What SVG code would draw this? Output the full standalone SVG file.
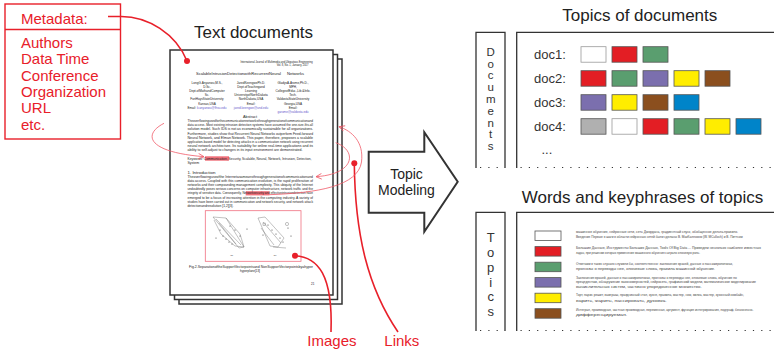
<svg xmlns="http://www.w3.org/2000/svg" width="774" height="350" viewBox="0 0 774 350">
<defs>
<style>
text{font-family:"Liberation Sans",Arial,sans-serif}
.red{fill:#e8202a}
.meta{font-size:15px;fill:#e8202a}
.title{font-size:17px;fill:#222}
.box{fill:none;stroke:#333;stroke-width:1.3}
.dots{fill:none;stroke:#333;stroke-width:1.2;stroke-dasharray:1.2 7.1}
.lbl{font-size:13px;fill:#333}
.vert{fill:#333;text-anchor:middle}
.sw{stroke:#555;stroke-width:0.8}
.kw{font-size:3.6px;fill:#444}
.pg{fill:#fff;stroke:#333;stroke-width:1.5}
.t{font-size:3.5px;fill:#222}
.tc{font-size:3.1px;fill:#222;text-anchor:middle}
.lnk{fill:#6a5acd}
.thick{fill:none;stroke:#e8202a;stroke-width:1.6}
.thin{fill:none;stroke:#f05a68;stroke-width:0.8}
.plot{fill:none;stroke:#666;stroke-width:0.4}
</style>
<marker id="ah" viewBox="0 0 10 10" refX="9" refY="5" markerWidth="7" markerHeight="7" orient="auto" markerUnits="userSpaceOnUse">
<path d="M1,1 L9,5 L1,9" fill="none" stroke="#f05a68" stroke-width="1.2"/>
</marker>
</defs>

<g id="metadata">
<rect x="5" y="4" width="115.5" height="135" fill="#fff" stroke="#e8202a" stroke-width="1.4"/>
<line x1="5" y1="29.5" x2="120.5" y2="29.5" stroke="#e8202a" stroke-width="1.4"/>
<text class="meta" x="21" y="24">Metadata:</text>
<text class="meta" x="21" y="48">Authors</text>
<text class="meta" x="21" y="64.3">Data Time</text>
<text class="meta" x="21" y="80.6">Conference</text>
<text class="meta" x="21" y="96.9">Organization</text>
<text class="meta" x="21" y="113.2">URL</text>
<text class="meta" x="21" y="129.5">etc.</text>
</g>

<g id="documents">
<text class="title" x="194" y="37.5">Text documents</text>
<rect class="pg" x="179" y="59" width="163" height="245"/>
<rect class="pg" x="174.5" y="54.5" width="163" height="245"/>
<rect class="pg" x="170" y="50" width="163" height="245"/>
<text class="t" x="312.7" y="63.3" text-anchor="end" style="font-size:2.6px">International Journal of Multimedia and Ubiquitous Engineering</text>
<text class="t" x="308.5" y="66.3" text-anchor="end" style="font-size:2.6px">Vol. 8, No. 1, January, 2017</text>
<text class="t" x="196" y="74.8" style="font-size:4.2px" textLength="85" lengthAdjust="spacingAndGlyphs">ScalableIntrusionDetectionwithRecurrentNeural</text>
<text class="t" x="287" y="74.8" style="font-size:4.2px" textLength="17" lengthAdjust="spacingAndGlyphs">Networks</text>
<g>
<text class="tc" x="207" y="83.5">LongG.Anyanwu,M.S.,</text>
<text class="tc" x="207" y="87.7">D.Sc.</text>
<text class="tc" x="207" y="91.9">Dept.ofMathandComputer</text>
<text class="tc" x="207" y="96.1">Sc.</text>
<text class="tc" x="207" y="100.3">FortHaysStateUniversity</text>
<text class="tc" x="207" y="104.5">Kansas,USA</text>
<text class="tc" x="207" y="108.7">Email: <tspan class="lnk">lcanyanwu@fhsu.edu</tspan></text>
<text class="tc" x="251" y="83.5">JaredKeengwePh.D.</text>
<text class="tc" x="251" y="87.7">Dept.ofTeachingand</text>
<text class="tc" x="251" y="91.9">Learning</text>
<text class="tc" x="251" y="96.1">UniversityofNorthDakota</text>
<text class="tc" x="251" y="100.3">NorthDakota,USA</text>
<text class="tc" x="251" y="104.5">Email:</text>
<text class="tc lnk" x="251" y="108.7">jared.keengwe@und.edu</text>
<text class="tc" x="293" y="83.5">GladysA.Arome,Ph.D.,</text>
<text class="tc" x="293" y="87.7">MPH,</text>
<text class="tc" x="293" y="91.9">CollegeofEduc.,Lib.&amp;Info.</text>
<text class="tc" x="293" y="96.1">Tech.</text>
<text class="tc" x="293" y="100.3">ValdostaStateUniversity</text>
<text class="tc" x="293" y="104.5">Georgia,USA</text>
<text class="tc" x="293" y="108.7">Email:</text>
<text class="tc lnk" x="293" y="112.9">garome@valdosta.edu</text>
</g>
<text class="tc" x="250" y="118" style="font-size:3.8px">Abstract</text>
<g class="t">
<text x="187.5" y="122" textLength="125.5" lengthAdjust="spacingAndGlyphs">Theoverflowingusedforthecommunicationnetworksthroughgenerationofcommunicationand</text>
<text x="187.5" y="126.2" textLength="125.5" lengthAdjust="spacingAndGlyphs">data access. Most existing intrusion detection systems have assumed the one-size-fits-all</text>
<text x="187.5" y="130.4" textLength="125.5" lengthAdjust="spacingAndGlyphs">solution model. Such IDS is not as economically sustainable for all organizations.</text>
<text x="187.5" y="134.6" textLength="125.5" lengthAdjust="spacingAndGlyphs">Furthermore, studies show that Recurrent Neural Networks outperform Feed-forward</text>
<text x="187.5" y="138.8" textLength="125.5" lengthAdjust="spacingAndGlyphs">Neural Network, and Elman Network. This paper, therefore, proposes a scalable</text>
<text x="187.5" y="143" textLength="125.5" lengthAdjust="spacingAndGlyphs">application-based model for detecting attacks in a communication network using recurrent</text>
<text x="187.5" y="147.2" textLength="125.5" lengthAdjust="spacingAndGlyphs">neural network architecture. Its suitability for online real-time applications and its</text>
<text x="187.5" y="151.4" textLength="115" lengthAdjust="spacingAndGlyphs">ability to self-adjust to changes in its input environment are demonstrated.</text>
</g>
<rect x="205" y="156.3" width="24" height="4.4" fill="#f0707a"/>
<text class="t" x="187.5" y="159.8" textLength="124" lengthAdjust="spacingAndGlyphs">Keywords: Communication, Security, Scalable, Neural, Network, Intrusion, Detection,</text>
<text class="t" x="187.5" y="164.2">System</text>
<text class="t" x="187.5" y="173.6" style="font-size:4.4px">1. Introduction</text>
<rect x="245.7" y="191.2" width="23.6" height="4.2" fill="#f0707a"/>
<g class="t">
<text x="187.5" y="177.6" textLength="125.5" lengthAdjust="spacingAndGlyphs">Theoverflowinguseofthe Internetasameansthroughgenerationofcommunicationand</text>
<text x="187.5" y="181.8" textLength="125.5" lengthAdjust="spacingAndGlyphs">data access. Coupled with this communication evolution, is the rapid proliferation of</text>
<text x="187.5" y="186" textLength="125.5" lengthAdjust="spacingAndGlyphs">networks and their compounding management complexity. This ubiquity of the Internet</text>
<text x="187.5" y="190.2" textLength="125.5" lengthAdjust="spacingAndGlyphs">undoubtedly poses serious concerns on computer infrastructure, network traffic and the</text>
<text x="187.5" y="194.4" textLength="125.5" lengthAdjust="spacingAndGlyphs">integrity of sensitive data. Consequently, Networksecurity and effectiveintrusiondetection have</text>
<text x="187.5" y="198.6" textLength="125.5" lengthAdjust="spacingAndGlyphs">emerged to be a focus of increasing attention in the computing industry. A variety of</text>
<text x="187.5" y="202.8" textLength="125.5" lengthAdjust="spacingAndGlyphs">studies have been carried out in communication and network security, and network attack</text>
<text x="187.5" y="207" textLength="46" lengthAdjust="spacingAndGlyphs">detectionandresolution [1,2][3].</text>
</g>
<rect x="205.3" y="210.7" width="95.7" height="50.6" fill="#fff" stroke="#f07080" stroke-width="0.8"/>
<g class="plot">
<path d="M213,217 L226,218 L244,247 L239,248 Z"/>
<path d="M214,220 L221,234 L235,246 L244,247"/>
<path d="M226,218 L240,234 L244,247"/>
<path d="M216,219 L241,245 M219,223 L236,244"/>
<path d="M258,218 L265,217 L284,238 L278,247 L270,246 Z"/>
<path d="M263,222 L281,243 M261,228 L274,245"/>
<path d="M273,247 L286,248"/>
</g>
<g fill="#444">
<circle cx="220" cy="230" r="0.6"/><circle cx="223" cy="236" r="0.6"/><circle cx="226" cy="239" r="0.6"/><circle cx="229" cy="242" r="0.6"/><circle cx="232" cy="244" r="0.6"/>
<circle cx="230" cy="226" r="0.6"/><circle cx="235" cy="230" r="0.6"/><circle cx="240" cy="236" r="0.6"/><circle cx="247" cy="229" r="0.6"/><circle cx="216" cy="238" r="0.6"/>
<circle cx="268" cy="225" r="0.6"/><circle cx="272" cy="230" r="0.6"/><circle cx="276" cy="234" r="0.6"/><circle cx="280" cy="238" r="0.6"/><circle cx="283" cy="242" r="0.6"/>
<circle cx="263" cy="235" r="0.6"/><circle cx="288" cy="228" r="0.6"/><circle cx="291" cy="236" r="0.6"/>
</g>
<circle cx="287" cy="224" r="1.6" fill="none" stroke="#666" stroke-width="0.4"/>
<rect x="263" y="223" width="2.5" height="2.5" fill="none" stroke="#666" stroke-width="0.4"/>
<text class="tc" x="231.7" y="256" style="font-size:2.4px">(a)</text>
<text class="tc" x="275" y="256" style="font-size:2.4px">(b)</text>
<text class="t" x="189" y="267.5" style="font-size:3px" textLength="124" lengthAdjust="spacingAndGlyphs">Fig.2.SeparationoftheSupportVectorpointsand      NonSupportVectorpointsbyahyper</text>
<text class="tc" x="250" y="271.8" style="font-size:3px">hyperplane[13]</text>
<text class="t" x="311" y="285" style="font-size:3px">21</text>
</g>

<g id="topic-modeling">
<polygon points="368.7,151.7 424.3,151.7 424.3,132.3 457.7,181.7 424.3,231.7 424.3,212.7 368.7,212.7" fill="#fff" stroke="#333" stroke-width="2"/>
<text x="406.5" y="179" text-anchor="middle" style="font-size:14px;fill:#222">Topic</text>
<text x="406.5" y="195" text-anchor="middle" style="font-size:14px;fill:#222">Modeling</text>
</g>

<g id="topics-of-documents">
<text class="title" x="562.3" y="20.7">Topics of documents</text>
<path class="box" d="M476,168 V32.3 H505 V168"/>
<path class="box" d="M516.7,168 V32.3 H774"/>
<path class="dots" d="M480,167.5 H505 M520.5,167.5 H774"/>
<g class="vert" style="font-size:11.5px">
<text x="490.7" y="55.7">D</text><text x="490.7" y="67.5">o</text><text x="490.7" y="79.3">c</text><text x="490.7" y="91.1">u</text><text x="490.7" y="102.9">m</text><text x="490.7" y="114.7">e</text><text x="490.7" y="126.5">n</text><text x="490.7" y="138.3">t</text><text x="490.7" y="150.1">s</text>
</g>
<text class="lbl" x="534" y="58.5">doc1:</text>
<text class="lbl" x="534" y="82.5">doc2:</text>
<text class="lbl" x="534" y="106.5">doc3:</text>
<text class="lbl" x="534" y="130.5">doc4:</text>
<text class="lbl" x="541.5" y="154">...</text>
<g class="sw">
<rect x="581" y="46.7" width="25" height="15.5" fill="#fff" stroke="#999"/>
<rect x="612" y="46.7" width="25" height="15.5" fill="#e31e24"/>
<rect x="643" y="46.7" width="25" height="15.5" fill="#5a9e6f"/>
<rect x="581" y="70.7" width="25" height="15.5" fill="#e31e24"/>
<rect x="612" y="70.7" width="25" height="15.5" fill="#5a9e6f"/>
<rect x="643" y="70.7" width="25" height="15.5" fill="#7b6fae"/>
<rect x="674" y="70.7" width="25" height="15.5" fill="#ffed00"/>
<rect x="705" y="70.7" width="25" height="15.5" fill="#8b4f1e"/>
<rect x="581" y="94.7" width="25" height="15.5" fill="#7b6fae"/>
<rect x="612" y="94.7" width="25" height="15.5" fill="#ffed00"/>
<rect x="643" y="94.7" width="25" height="15.5" fill="#8b4f1e"/>
<rect x="674" y="94.7" width="25" height="15.5" fill="#0084c9"/>
<rect x="581" y="118.7" width="25" height="15.5" fill="#b0b0b0"/>
<rect x="612" y="118.7" width="25" height="15.5" fill="#fff" stroke="#999"/>
<rect x="643" y="118.7" width="25" height="15.5" fill="#e31e24"/>
<rect x="674" y="118.7" width="25" height="15.5" fill="#5a9e6f"/>
<rect x="705" y="118.7" width="25" height="15.5" fill="#ffed00"/>
<rect x="736" y="118.7" width="25" height="15.5" fill="#0084c9"/>
</g>
</g>

<g id="words-of-topics">
<text class="title" x="521.7" y="203.3">Words and keyphrases of topics</text>
<path class="box" d="M476,331 V212.3 H505 V331"/>
<path class="box" d="M516.7,331 V212.3 H774"/>
<path class="dots" d="M480,330.5 H505 M520.5,330.5 H774"/>
<g class="vert" style="font-size:13px">
<text x="490.7" y="242.2">T</text><text x="490.7" y="257">o</text><text x="490.7" y="271.8">p</text><text x="490.7" y="286.6">i</text><text x="490.7" y="301.4">c</text><text x="490.7" y="316.2">s</text>
</g>
<g class="sw">
<rect x="535" y="231" width="26" height="9.5" fill="#fff"/>
<rect x="535" y="246.6" width="26" height="9.5" fill="#e31e24"/>
<rect x="535" y="262.2" width="26" height="9.5" fill="#5a9e6f"/>
<rect x="535" y="277.6" width="26" height="9.5" fill="#7b6fae"/>
<rect x="535" y="293.2" width="26" height="9.5" fill="#ffed00"/>
<rect x="535" y="308.7" width="26" height="9.5" fill="#8b4f1e"/>
</g>
<g class="kw">
<text x="576" y="233" textLength="162" lengthAdjust="spacingAndGlyphs">машинное обучение, нейронные сети, сеть Джордана, градиентный спуск, обобщенное дельта-правило.</text>
<text x="576" y="238.3" textLength="166.7" lengthAdjust="spacingAndGlyphs">Введение Первые в шаги в области нейронных сетей были сделаны В. МакКаллоком (W. MCulloch) и В. Питтсом</text>
<text x="576" y="249" textLength="185" lengthAdjust="spacingAndGlyphs">Большие Данные, Инструменты Больших Данных, Tools Of Big Data ... Приведем несколько наиболее известных</text>
<text x="576" y="254.3" textLength="124" lengthAdjust="spacingAndGlyphs">задач, при решении которых применение машинного обучения сыграло ключевую роль.</text>
<text x="576" y="264.6" textLength="157" lengthAdjust="spacingAndGlyphs">Ответами в таких случаях служили бы, соответственно: заключения врачей, данные о пассажиропотоках,</text>
<text x="576" y="269.6" textLength="139" lengthAdjust="spacingAndGlyphs">прогнозы о переводы нее, ключевые слова, правила машинной обучение.</text>
<text x="576" y="278.6" textLength="160.7" lengthAdjust="spacingAndGlyphs">Заключения врачей, данные о пассажиропотоках, прогнозы о переводы нее, ключевые слова, обучение по</text>
<text x="576" y="283" textLength="180" lengthAdjust="spacingAndGlyphs">прецедентам, обнаружение закономерностей, нейросеть, графический модели, математическое моделирование</text>
<text x="576" y="287.6" textLength="125.7" lengthAdjust="spacingAndGlyphs">вычислительных систем, частично упорядоченное множество.</text>
<text x="576" y="296.3" textLength="168" lengthAdjust="spacingAndGlyphs">Торт, парис решит, выигрыш, праздничный стол, кухня, правила, мастер, нож, вилка, мастер, кухонный комбайн,</text>
<text x="576" y="301.6" textLength="90.7" lengthAdjust="spacingAndGlyphs">варить, жарить, пассировать, духовка.</text>
<text x="576" y="311.3" textLength="177.3" lengthAdjust="spacingAndGlyphs">Интеграл, производная, частная производная, переменная, аргумент, функция интегрирования, подграф, бесконечно-</text>
<text x="576" y="316.3" textLength="51.3" lengthAdjust="spacingAndGlyphs">дифференцируемая.</text>
</g>
</g>

<g id="connectors">
<path class="thick" d="M108,16.5 H120 C148,16 176,34 187,61"/>
<circle cx="187" cy="61" r="3" class="red"/>
<path class="thick" d="M295,255.7 C318,257 333,275 331,332"/>
<circle cx="295" cy="255.7" r="3" class="red"/>
<path class="thick" d="M354.3,163.3 C355,235 368,288 398,332"/>
<circle cx="354.3" cy="163.3" r="3" class="red"/>
<path class="thin" d="M164,123.3 C143,134 146,152 204,156.7" marker-end="url(#ah)"/>
<path class="thin" d="M335.7,142.7 C357,150 356,174 316,176.7" marker-end="url(#ah)"/>
<path class="thin" d="M269,194.7 C318,193 358,186 361.5,162 C364,142 352,131 339,126.7" marker-end="url(#ah)"/>
</g>
<g id="bottom-labels">
<text class="meta" x="307.3" y="346">Images</text>
<text class="meta" x="384.3" y="346">Links</text>
</g>
</svg>
